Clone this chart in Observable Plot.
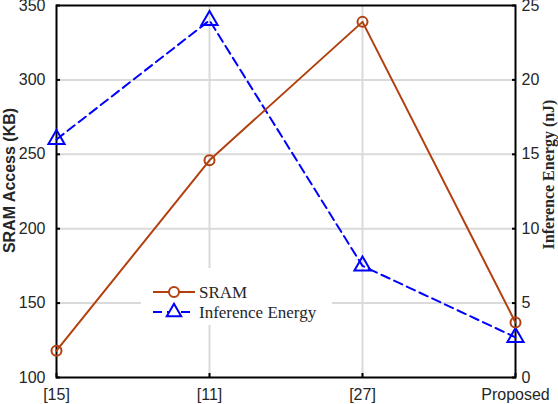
<!DOCTYPE html>
<html><head><meta charset="utf-8">
<script src="https://cdn.jsdelivr.net/npm/d3@7"></script>
<script src="https://cdn.jsdelivr.net/npm/@observablehq/plot@0.6"></script>
<style>body{margin:0;background:#fff}</style>
</head><body><div id="chart"></div>
<script>
const categories = ["[15]", "[11]", "[27]", "Proposed"];
const sramKB = [118, 246, 339, 137];
const energyNJ = [16, 24, 7.5, 2.7];
const leftTicks = [100, 150, 200, 250, 300, 350];
const rightTicks = [0, 5, 10, 15, 20, 25];
const seriesNames = ["SRAM", "Inference Energy"];

const toLeft = e => 100 + e * 10;
const sramData = categories.map((c, i) => ({c, v: sramKB[i]}));
const energyData = categories.map((c, i) => ({c, v: toLeft(energyNJ[i])}));
const orange = "#b2400f", blue = "#0000ff", grid = "#dadada", ink = "#262626";

const chart = Plot.plot({
  width: 558, height: 404,
  marginLeft: 56, marginRight: 43, marginTop: 5, marginBottom: 27,
  style: {fontFamily: "'Liberation Sans', Arial, sans-serif", fontSize: "16px", color: ink, background: "#fff"},
  x: {type: "point", domain: categories, padding: 0},
  y: {domain: [100, 350]},
  marks: [
    Plot.gridX(categories.slice(1, 3), {stroke: grid, strokeWidth: 2, strokeOpacity: 1}),
    Plot.gridY(leftTicks.slice(1, 5), {stroke: grid, strokeWidth: 2, strokeOpacity: 1}),
    Plot.axisX({tickSize: -4, tickPadding: 15, label: null, stroke: "black", strokeWidth: 2}),
    Plot.axisY({anchor: "left", ticks: leftTicks, tickSize: -4, tickPadding: 15, label: null, stroke: "black", strokeWidth: 2}),
    Plot.axisY({anchor: "right", ticks: rightTicks.map(toLeft), tickFormat: v => String((v - 100) / 10), tickSize: -4, tickPadding: 10, label: null, stroke: "black", strokeWidth: 2}),
    Plot.frame({stroke: "black", strokeWidth: 2}),
    Plot.line(energyData, {x: "c", y: "v", stroke: blue, strokeWidth: 2, strokeDasharray: "9,5"}),
    Plot.dot(energyData, {x: "c", y: "v", symbol: "triangle", r: 6, stroke: blue, strokeWidth: 2, fill: "none"}),
    Plot.line(sramData, {x: "c", y: "v", stroke: orange, strokeWidth: 2}),
    Plot.dot(sramData, {x: "c", y: "v", symbol: "circle", r: 5, stroke: orange, strokeWidth: 2, fill: "none"}),
    Plot.text(["SRAM Access (KB)"], {frameAnchor: "left", textAnchor: "middle", dx: -47, dy: -11, rotate: -90, fontWeight: "bold", fontSize: 16, fill: ink}),
    Plot.text(["Inference Energy (nJ)"], {frameAnchor: "right", textAnchor: "middle", dx: 33, dy: -17, rotate: -90, fontWeight: "bold", fontSize: 16, fill: ink, fontFamily: "'Liberation Serif', 'Times New Roman', serif"})
  ]
});
document.getElementById("chart").appendChild(chart);

// legend
const svg = d3.select(chart);
const lg = svg.append("g")
  .attr("font-family", "'Liberation Serif', 'Times New Roman', serif")
  .attr("font-size", 17).attr("fill", ink).attr("text-anchor", "start");
lg.append("rect").attr("x", 141).attr("y", 268).attr("width", 191).attr("height", 57)
  .attr("fill", "#ffffff").attr("stroke", "none");
const items = [
  {name: seriesNames[0], color: orange, dash: null, sym: d3.symbolCircle, size: 78, y: 292},
  {name: seriesNames[1], color: blue, dash: "9,5", sym: d3.symbolTriangle, size: 90, y: 312}
];
items.forEach(it => {
  lg.append("line").attr("x1", 153).attr("x2", 195).attr("y1", it.y).attr("y2", it.y)
    .attr("stroke", it.color).attr("stroke-width", 2).attr("stroke-dasharray", it.dash);
  lg.append("path").attr("d", d3.symbol(it.sym, it.size)())
    .attr("transform", `translate(174,${it.y})`).attr("fill", "#ffffff")
    .attr("stroke", it.color).attr("stroke-width", 2);
  lg.append("text").attr("x", 199).attr("y", it.y).attr("dy", "0.35em")
    .attr("text-anchor", "start").attr("fill", ink).text(it.name);
});
</script>
</body></html>
